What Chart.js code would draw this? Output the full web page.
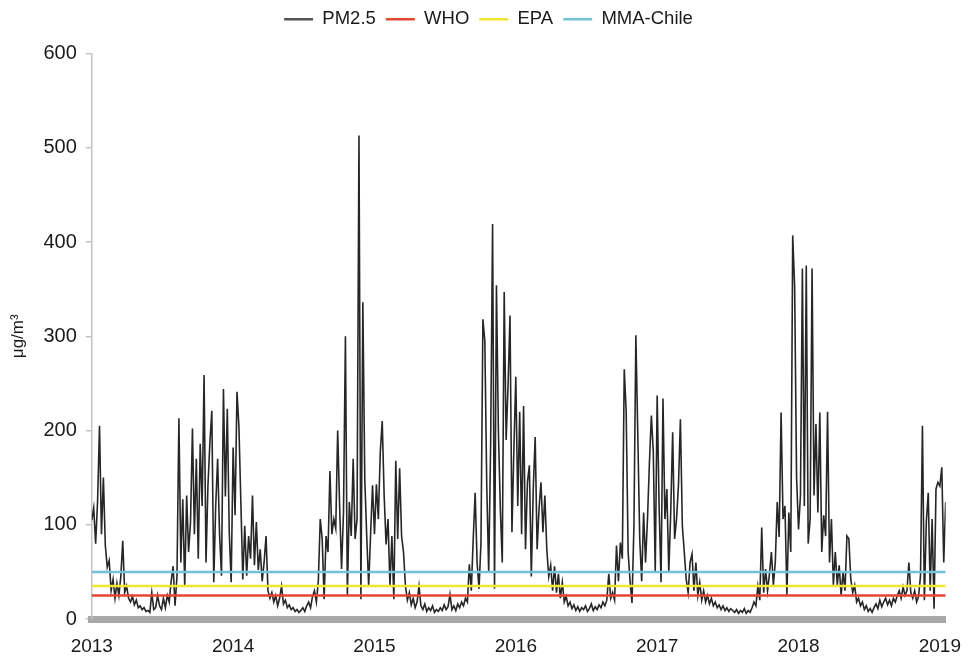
<!DOCTYPE html>
<html>
<head>
<meta charset="utf-8">
<script src="https://cdn.jsdelivr.net/npm/chart.js@4.4.0/dist/chart.umd.min.js"></script>
<style>
  html, body { margin: 0; background: #fff; }
</style>
</head>
<body>
<canvas id="pmChart" width="969" height="657"></canvas>
<script>
// Data: PM2.5, one value every 5 days (73 per year)
const SAMPLES_PER_YEAR = 73;
const years = [2013, 2014, 2015, 2016, 2017, 2018];
const yearTicks = [2013, 2014, 2015, 2016, 2017, 2018, 2019];

const pm2013 = [105,118,80,125,205,90,150,78,55,62,
  30,42,22,38,25,45,83,28,35,22,
  18,24,15,20,12,14,10,12,8,9,
  7,28,10,12,25,14,10,22,12,25,
  18,40,56,14,45,213,60,127,35,131,
  71,103,202,90,170,64,186,120,259,60,
  142,187,221,39,120,170,90,46,244,130,
  223,92,39];
const pm2014 = [182,110,241,204,124,42,99,46,88,64,
  131,57,103,52,74,40,60,88,30,22,
  28,18,25,14,22,35,16,20,12,15,
  10,12,8,10,7,9,12,8,14,18,
  12,24,30,18,40,106,85,21,88,71,
  157,90,106,96,200,120,53,113,300,25,
  124,88,170,85,106,513,21,336,148,88,
  35,90,142];
const pm2015 = [90,143,106,177,210,131,79,106,35,88,
  21,168,85,160,88,71,35,20,28,15,
  22,12,18,35,14,10,16,8,12,9,
  14,7,10,8,12,9,15,10,13,26,
  10,14,9,16,12,18,14,22,18,58,
  30,85,134,60,32,81,318,295,140,50,
  187,419,32,354,200,117,60,347,190,248,
  322,92,180];
const pm2016 = [257,120,220,90,226,74,145,163,45,138,
  193,74,117,145,92,131,74,45,57,30,
  56,28,48,22,39,18,24,14,18,11,
  15,9,13,8,12,10,14,8,11,16,
  9,13,10,15,12,18,14,20,48,22,
  28,20,78,40,81,64,265,220,71,40,
  17,99,301,195,85,40,113,60,106,166,
  216,177,50];
const pm2017 = [237,120,39,234,106,138,50,113,198,85,
  106,142,212,99,71,42,28,60,69,30,
  60,25,39,20,30,18,25,16,22,14,
  18,12,15,10,14,9,12,8,11,9,
  7,10,6,9,7,11,6,9,7,12,
  18,14,35,20,97,28,53,30,48,71,
  36,60,124,87,219,106,120,25,113,71,
  407,352,150];
// runs a few samples past the 2019 tick, like the original
const pm2018 = [95,131,372,120,375,80,106,372,131,207,
  113,219,71,110,88,220,60,106,36,71,
  36,57,25,50,30,88,85,42,28,36,
  18,22,14,18,10,14,8,11,7,12,
  16,11,20,13,18,22,15,20,14,22,
  18,25,30,22,34,25,30,60,28,22,
  30,18,24,46,205,20,103,134,30,106,
  11,138,145,141,161,60,124];

const pmByYear = [pm2013, pm2014, pm2015, pm2016, pm2017, pm2018];

// Reference limits (daily, µg/m3)
const limitNames  = ['WHO', 'EPA', 'MMA-Chile'];
const limitValues = [25, 35, 50];
const limitColors = ['#e4462f', '#f1e633', '#72c3da'];

const yTicks = [0, 100, 200, 300, 400, 500, 600];

const pmPoints = years.flatMap((yr, k) =>
  pmByYear[k].map((v, i) => ({ x: yr + i / SAMPLES_PER_YEAR, y: v }))
);

const xMin = yearTicks[0];
const xMax = pmPoints[pmPoints.length - 1].x;

const datasets = [{
  label: 'PM2.5',
  data: pmPoints,
  borderColor: '#262626',
  backgroundColor: '#262626',
  borderWidth: 1.6,
  pointRadius: 0,
  order: 4,
}];

limitNames.forEach((name, i) => {
  datasets.push({
    label: name,
    data: [{ x: xMin, y: limitValues[i] }, { x: xMax, y: limitValues[i] }],
    borderColor: limitColors[i],
    backgroundColor: limitColors[i],
    borderWidth: 2.5,
    pointRadius: 0,
    order: 3 - i,
  });
});

// push the plot down a bit under the legend
const legendGap = {
  id: 'legendGap',
  beforeInit(chart) {
    const fit = chart.legend.fit;
    chart.legend.fit = function () {
      fit.call(this);
      this.height += 15;
    };
  }
};

Chart.defaults.font.family = '"Liberation Sans", Arial, sans-serif';
Chart.defaults.color = '#1a1a1a';

new Chart(document.getElementById('pmChart'), {
  type: 'line',
  data: { datasets },
  plugins: [legendGap],
  options: {
    responsive: false,
    animation: false,
    layout: { padding: { left: 8, right: 0, top: 0, bottom: 0 } },
    plugins: {
      legend: {
        position: 'top',
        labels: {
          usePointStyle: true,
          pointStyleWidth: 29,
          boxHeight: 18,
          padding: 10,
          font: { size: 18.5 },
          sort: (a, b) => a.datasetIndex - b.datasetIndex,
          generateLabels(chart) {
            return Chart.defaults.plugins.legend.labels.generateLabels(chart)
              .map(l => ({ ...l, pointStyle: 'line', lineWidth: 2.5,
                strokeStyle: l.datasetIndex === 0 ? '#555' : l.strokeStyle }));
          }
        }
      },
      tooltip: { enabled: false }
    },
    scales: {
      x: {
        type: 'linear',
        min: xMin,
        max: xMax,
        afterBuildTicks(scale) { scale.ticks = yearTicks.map(v => ({ value: v })); },
        afterFit(scale) { scale.height = 38; },
        ticks: { callback: v => String(v), font: { size: 19 }, padding: 8, maxRotation: 0, autoSkip: false },
        grid: { display: false },
        border: { color: '#a8a8a8', width: 7 }
      },
      y: {
        min: 0,
        max: 600,
        afterBuildTicks(scale) { scale.ticks = yTicks.map(v => ({ value: v })); },
        ticks: { font: { size: 20 }, padding: 9 },
        grid: { drawOnChartArea: false, drawTicks: true, tickLength: 6, color: '#c4c4c4', lineWidth: 1.5 },
        border: { color: '#c4c4c4', width: 1.5 },
        title: { display: true, text: 'μg/m³', font: { size: 17 }, padding: { top: 0, bottom: 6 } }
      }
    }
  }
});
</script>
</body>
</html>
